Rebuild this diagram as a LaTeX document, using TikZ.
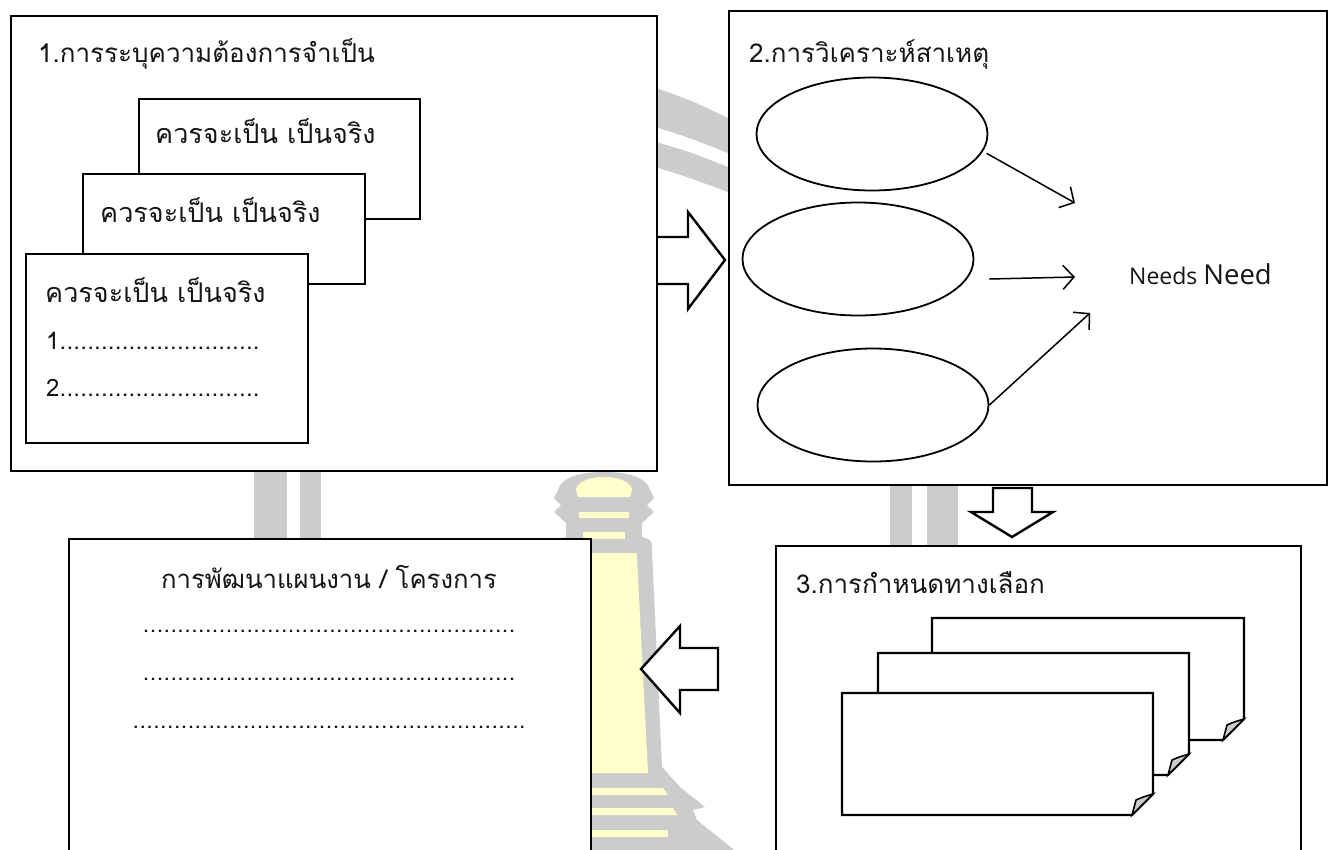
\documentclass[tikz,border=0pt]{standalone}
\usepackage{fontspec}
\newfontfamily\thaifont[Script=Thai]{Loma}
\newfontfamily\uifont{Open Sans}
\usetikzlibrary{shapes.geometric,arrows.meta}
\definecolor{wmgray}{HTML}{CCCCCC}
\definecolor{wmyellow}{HTML}{FFFFCC}
\definecolor{inkgray}{HTML}{151515}
% a row of evenly spaced dots
\newcommand{\dotrow}[1]{\foreach \k in {1,...,#1}{\makebox[6.9pt][c]{.}}}
\tikzset{
  panel/.style={draw, line width=2.2pt, fill=white, anchor=north west, inner sep=0pt},
  card/.style={draw, line width=2.2pt, fill=white, anchor=north west, inner sep=0pt},
  cause/.style={draw, ellipse, line width=1.8pt, fill=white, inner sep=0pt,
                minimum width=231pt, minimum height=113pt},
  head/.style={font=\thaifont\fontsize{26}{30}\selectfont, anchor=base west, inner sep=0pt, text=inkgray},
  cardtext/.style={font=\thaifont\fontsize{27}{31}\selectfont, anchor=base west, inner sep=0pt, text=inkgray},
  listtext/.style={font=\thaifont\fontsize{24}{28}\selectfont, anchor=base west, inner sep=0pt, text=inkgray},
  dotline/.style={font=\thaifont\fontsize{23}{26}\selectfont, anchor=base, inner sep=0pt, text=inkgray},
  link/.style={line width=1.5pt, -{Straight Barb[length=11pt,width=24pt]}},
  blockarrow/.style={draw, line width=2.4pt, fill=white, line join=miter},
  page/.style={draw, line width=2.2pt, fill=white, line join=miter},
  curl/.style={draw, line width=1.6pt, fill=wmgray, line join=miter},
}
\begin{document}
\begin{tikzpicture}[x=1pt,y=-1pt]
\useasboundingbox (0,0) rectangle (1336,849);
\clip (0,0) rectangle (1336,849);
\fill[white] (0,0) rectangle (1336,849);

% ---- faint emblem in the background ----
\fill[wmgray] (656,88) .. controls (690,100) .. (728,118) -- (728,153) .. controls (690,138) .. (656,127) -- cycle;
\fill[wmgray] (656,142) .. controls (690,152) .. (728,167) -- (728,192) .. controls (690,178) .. (656,167) -- cycle;
\fill[wmgray] (254,460) rectangle (287,550);
\fill[wmgray] (300,460) rectangle (321,550);
\fill[wmgray] (890,470) rectangle (912,550);
\fill[wmgray] (927,470) rectangle (958,550);
% tower silhouette
\fill[wmgray] (604,472) .. controls (630,472) and (647,478) .. (650,490) -- (654,498) -- (647,505)
  -- (654,512) -- (642,523) -- (642,537) .. controls (652,540) .. (652,550) -- (662,767)
  -- (680,787) -- (705,807) -- (693,810) -- (697,820) -- (733,849) -- (733,860)
  -- (475,860) -- (475,849) -- (511,820) -- (515,810) -- (503,807) -- (528,787)
  -- (546,767) -- (556,550) .. controls (556,540) .. (566,537) -- (566,523) -- (554,512)
  -- (561,505) -- (554,498) -- (558,490) .. controls (561,478) and (578,472) .. (604,472) -- cycle;
\fill[wmyellow] (604,477) .. controls (622,477) and (632,484) .. (632,490) -- (630,497) -- (578,497)
  -- (576,490) .. controls (576,484) and (586,477) .. (604,477) -- cycle;
\fill[wmyellow] (579,512) rectangle (629,518);
\fill[wmyellow] (583,532) rectangle (625,539);
\fill[wmyellow] (574,553) -- (634,553) .. controls (637,553) .. (637,558) -- (648,773) -- (560,773) -- (571,558) .. controls (571,553) .. (574,553) -- cycle;
\fill[wmyellow] (545,788) -- (663,788) -- (668,795) -- (540,795) -- cycle;
\fill[wmyellow] (535,808) -- (673,808) -- (677,815) -- (531,815) -- cycle;
\fill[wmyellow] (540,830) rectangle (668,837);

% ---- 1. needs identification ----
\node[panel, minimum width=646pt, minimum height=455pt] (p1) at (10,15) {};
\node[head] (t1) at (38,62) {1.การระบุความต้องการจำเป็น};
\node[card, minimum width=281pt, minimum height=120pt] (c1) at (138,98) {};
\node[cardtext] (c1t) at (155,143) {ควรจะเป็น เป็นจริง};
\node[card, minimum width=282pt, minimum height=110pt] (c2) at (82,173) {};
\node[cardtext] (c2t) at (100,222) {ควรจะเป็น เป็นจริง};
\node[card, minimum width=282pt, minimum height=189pt] (c3) at (25,253) {};
\node[cardtext] (c3t) at (45,302) {ควรจะเป็น เป็นจริง};
\node[listtext] (l1) at (46,349) {1\dotrow{29}};
\node[listtext] (l2) at (46,396) {2\dotrow{29}};

% ---- 2. cause analysis ----
\node[panel, minimum width=598pt, minimum height=474pt] (p2) at (728,10) {};
\node[head] (t2) at (749,62) {2.การวิเคราะห์สาเหตุ};
\node[cause] (e1) at (872,134) {};
\node[cause] (e2) at (858,259) {};
\node[cause] (e3) at (873,405) {};
\node[anchor=base west, inner sep=0pt, text=inkgray] (need) at (1129,284)
  {\uifont\fontsize{23}{26}\selectfont Needs \fontsize{27.5}{30}\selectfont Need};
\coordinate (h1) at (1075,203);
\coordinate (h2) at (1075,277);
\coordinate (h3) at (1090,313);
\draw[link] ([xshift=5pt]e1.-10) -- (h1);
\draw[link] ([xshift=15pt,yshift=-20pt]e2.east) -- (h2);
\draw[link] (e3.east) -- (h3);

% ---- 3. alternatives ----
\node[panel, minimum width=525pt, minimum height=340pt] (p3) at (775,545) {};
\node[head] (t3) at (796,593) {3.การกำหนดทางเลือก};
\foreach \nm/\l/\t/\r/\b in {pa/932/618/1244/740, pb/878/653/1189/775, pc/842/693/1153/815}{
  \path[page] (\l,\t) -- (\r,\t) -- (\r,\b-21) -- (\r-21,\b) -- (\l,\b) -- cycle;
  \path[curl] (\r,\b-21) .. controls (\r-10,\b-18) .. (\r-17,\b-15) -- (\r-21,\b) -- cycle;
  \coordinate (\nm) at (\l,\t);
}

% ---- plan / project development ----
\node[panel, minimum width=522pt, minimum height=340pt] (p4) at (68,538) {};
\node[font=\thaifont\fontsize{25.7}{30}\selectfont, anchor=base, inner sep=0pt, text=inkgray] (t4) at (329,588) {การพัฒนาแผนงาน / โครงการ};
\node[dotline] (d1) at (329,632) {\dotrow{54}};
\node[dotline] (d2) at (329,680) {\dotrow{54}};
\node[dotline] (d3) at (329,728) {\dotrow{57}};

% ---- block arrows between the stages ----
\draw[blockarrow] (p1.east |- 0,237) -- (688,237) -- (688,212) -- (725,260) -- (688,309) -- (688,284) -- (p1.east |- 0,284);
\draw[blockarrow] (993,488) -- (1032,488) -- (1032,512) -- (1053,512) -- (1012,537) -- (971,512) -- (993,512) -- cycle;
\draw[blockarrow] (718,648) -- (718,690) -- (680,690) -- (680,713) -- (641,669) -- (680,626) -- (680,648) -- cycle;
\end{tikzpicture}
\end{document}
